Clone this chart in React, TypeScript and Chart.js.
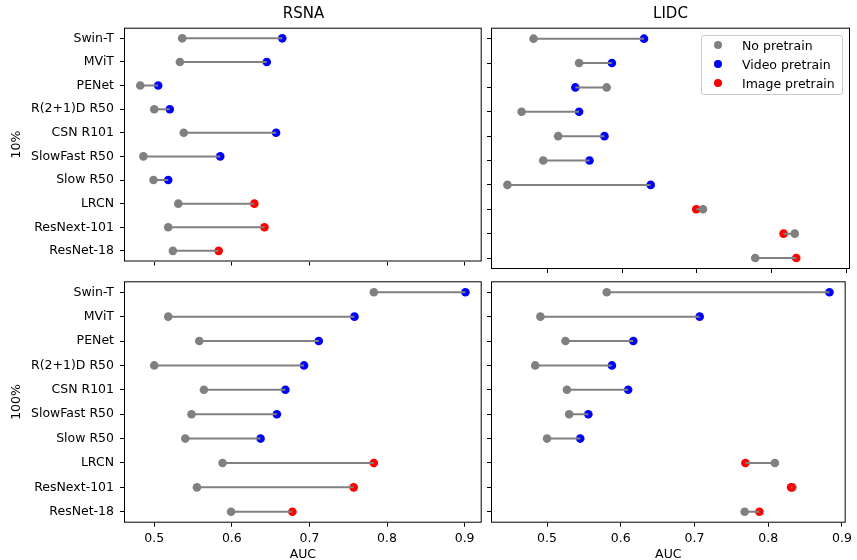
import React, { useEffect, useRef } from 'react';
import { Chart, registerables } from 'chart.js';

Chart.register(...registerables);

// ---------- data ----------
const models = ['Swin-T', 'MViT', 'PENet', 'R(2+1)D R50', 'CSN R101', 'SlowFast R50', 'Slow R50', 'LRCN', 'ResNext-101', 'ResNet-18'];
const pretrainKind = ['video', 'video', 'video', 'video', 'video', 'video', 'video', 'image', 'image', 'image'];

const rsna10NoPretrain = [0.536, 0.533, 0.482, 0.500, 0.538, 0.486, 0.499, 0.531, 0.518, 0.524];
const rsna10Pretrain = [0.665, 0.645, 0.505, 0.520, 0.657, 0.585, 0.518, 0.629, 0.642, 0.583];
const rsna100NoPretrain = [0.783, 0.518, 0.558, 0.500, 0.564, 0.548, 0.540, 0.588, 0.555, 0.599];
const rsna100Pretrain = [0.901, 0.758, 0.712, 0.693, 0.669, 0.658, 0.637, 0.783, 0.757, 0.678];
const lidc10NoPretrain = [0.481, 0.542, 0.579, 0.465, 0.514, 0.494, 0.446, 0.708, 0.831, 0.778];
const lidc10Pretrain = [0.629, 0.586, 0.537, 0.542, 0.576, 0.556, 0.638, 0.699, 0.816, 0.833];
const lidc100NoPretrain = [0.581, 0.491, 0.525, 0.484, 0.527, 0.530, 0.500, 0.809, 0.833, 0.768];
const lidc100Pretrain = [0.883, 0.707, 0.617, 0.588, 0.610, 0.556, 0.545, 0.769, 0.831, 0.788];

const xTickValues = [0.5, 0.6, 0.7, 0.8, 0.9];
const rsnaRange = [0.461, 0.922];
const lidcRange = [0.424, 0.905];

const colTitles = ['RSNA', 'LIDC'];
const rowTitles = ['10%', '100%'];
const legendLabels = ['No pretrain', 'Video pretrain', 'Image pretrain'];

const GRAY = '#808080';
const BLUE = '#0000ff';
const RED = '#ff0000';
const FONT = 'DejaVu Sans';

const framePlugin = {
  id: 'frame',
  afterDraw(chart: any) {
    const { ctx, chartArea } = chart;
    ctx.save();
    ctx.strokeStyle = '#000';
    ctx.lineWidth = 1;
    ctx.strokeRect(chartArea.left + 0.5, chartArea.top + 0.5, chartArea.right - chartArea.left - 1, chartArea.bottom - chartArea.top - 1);
    ctx.restore();
  },
};

type PanelProps = {
  noPre: number[];
  pre: number[];
  range: number[];
  left: number;
  top: number;
  width: number;
  height: number;
  yAxisWidth: number;
  xAxisHeight: number;
  padTop: number;
  padRight: number;
  showYLabels: boolean;
  showXLabels: boolean;
  yTitle?: string;
  grayOnTop: boolean;
};

function Panel(p: PanelProps) {
  const ref = useRef<HTMLCanvasElement | null>(null);
  useEffect(() => {
    if (!ref.current) return;
    const lineSets = models.map((_, i) => ({
      type: 'scatter',
      data: [{ x: p.noPre[i], y: i }, { x: p.pre[i], y: i }],
      showLine: true,
      borderColor: GRAY,
      borderWidth: 2,
      pointRadius: 0,
      pointHoverRadius: 0,
      order: 0,
    }));
    const pts = (arr: number[], kind?: string) =>
      arr.map((v, i) => ({ x: v, y: i })).filter((_, i) => !kind || pretrainKind[i] === kind);
    const dot = (data: any[], color: string, order: number) => ({
      type: 'scatter',
      data,
      pointRadius: 4.3,
      pointBorderWidth: 0,
      pointBackgroundColor: color,
      pointBorderColor: color,
      backgroundColor: color,
      borderColor: color,
      order,
    });
    const datasets: any[] = [
      ...lineSets,
      dot(pts(p.noPre), GRAY, p.grayOnTop ? 1 : 3),
      dot(pts(p.pre, 'video'), BLUE, 2),
      dot(pts(p.pre, 'image'), RED, 2),
    ];
    const chart = new Chart(ref.current, {
      type: 'scatter',
      data: { datasets },
      plugins: [framePlugin],
      options: {
        animation: false,
        responsive: false,
        devicePixelRatio: 1,
        layout: { padding: { left: 0, top: p.padTop, right: p.padRight, bottom: 0 } },
        plugins: { legend: { display: false }, tooltip: { enabled: false }, title: { display: false } },
        scales: {
          x: {
            type: 'linear',
            min: p.range[0],
            max: p.range[1],
            afterBuildTicks: (s: any) => { s.ticks = xTickValues.map((v) => ({ value: v })); },
            afterFit: (s: any) => { s.height = p.xAxisHeight; },
            ticks: {
              display: p.showXLabels,
              color: '#000',
              font: { family: FONT, size: 12.5 },
              padding: 5,
              maxRotation: 0,
              autoSkip: false,
              callback: (v: any) => Number(v).toFixed(1),
            },
            grid: { display: true, drawOnChartArea: false, drawTicks: true, tickLength: 4, tickColor: '#000', tickWidth: 1 },
            border: { display: false },
            title: {
              display: p.showXLabels,
              text: 'AUC',
              color: '#000',
              font: { family: FONT, size: 12.5 },
              padding: { top: 0, bottom: 0 },
            },
          },
          y: {
            type: 'linear',
            min: -0.45,
            max: 9.45,
            reverse: true,
            afterBuildTicks: (s: any) => { s.ticks = models.map((_, i) => ({ value: i })); },
            afterFit: (s: any) => { s.width = p.yAxisWidth; },
            ticks: {
              display: p.showYLabels,
              color: '#000',
              font: { family: FONT, size: 12.5 },
              padding: 6,
              autoSkip: false,
              callback: (v: any) => models[Math.round(Number(v))],
            },
            grid: { display: true, drawOnChartArea: false, drawTicks: true, tickLength: 4, tickColor: '#000', tickWidth: 1 },
            border: { display: false },
            title: {
              display: !!p.yTitle,
              text: p.yTitle || '',
              color: '#000',
              font: { family: FONT, size: 12.5 },
              padding: { top: 9.5, bottom: 0 },
            },
          },
        },
      } as any,
    } as any);
    return () => chart.destroy();
  }, []);
  return (
    <canvas
      ref={ref}
      width={p.width}
      height={p.height}
      style={{ position: 'absolute', left: p.left, top: p.top, width: p.width, height: p.height }}
    />
  );
}

const textStyle: React.CSSProperties = { position: 'absolute', fontFamily: FONT, color: '#000', whiteSpace: 'nowrap' };

export default function App() {
  const legendColors = [GRAY, BLUE, RED];
  return (
    <div style={{ position: 'absolute', left: 0, top: 0, width: 857, height: 560, background: '#fff', overflow: 'hidden' }}>
      <Panel noPre={rsna10NoPretrain} pre={rsna10Pretrain} range={rsnaRange}
        left={0} top={0} width={486} height={275} yAxisWidth={124} xAxisHeight={6} padTop={27.7} padRight={3}
        showYLabels={true} showXLabels={false} yTitle={rowTitles[0]} grayOnTop={true} />
      <Panel noPre={lidc10NoPretrain} pre={lidc10Pretrain} range={lidcRange}
        left={486} top={0} width={371} height={275} yAxisWidth={5} xAxisHeight={6} padTop={27.7} padRight={7}
        showYLabels={false} showXLabels={false} grayOnTop={true} />
      <Panel noPre={rsna100NoPretrain} pre={rsna100Pretrain} range={rsnaRange}
        left={0} top={255} width={486} height={307} yAxisWidth={124} xAxisHeight={39.3} padTop={26.3} padRight={3}
        showYLabels={true} showXLabels={true} yTitle={rowTitles[1]} grayOnTop={false} />
      <Panel noPre={lidc100NoPretrain} pre={lidc100Pretrain} range={lidcRange}
        left={486} top={255} width={371} height={307} yAxisWidth={5} xAxisHeight={39.3} padTop={26.3} padRight={7}
        showYLabels={false} showXLabels={true} grayOnTop={false} />

      <div style={{ ...textStyle, left: 124, width: 359, top: 5.5, fontSize: 15, lineHeight: '15px', textAlign: 'center' }}>{colTitles[0]}</div>
      <div style={{ ...textStyle, left: 491, width: 359, top: 5.5, fontSize: 15, lineHeight: '15px', textAlign: 'center' }}>{colTitles[1]}</div>

      <div style={{ position: 'absolute', left: 701, top: 35, width: 142, height: 60, boxSizing: 'border-box', border: '1px solid #cccccc', borderRadius: 3, background: 'rgba(255,255,255,0.8)' }}>
        {legendLabels.map((lab, i) => (
          <div key={lab}>
            <div style={{ position: 'absolute', left: 17 - 1 - 4.3, top: 10 + i * 19 - 1 - 4.3, width: 8.6, height: 8.6, borderRadius: '50%', background: legendColors[i] }} />
            <div style={{ ...textStyle, left: 41 - 1, top: 10 + i * 19 - 1 - 7.5, fontSize: 12.5, lineHeight: '15px' }}>{lab}</div>
          </div>
        ))}
      </div>
    </div>
  );
}
